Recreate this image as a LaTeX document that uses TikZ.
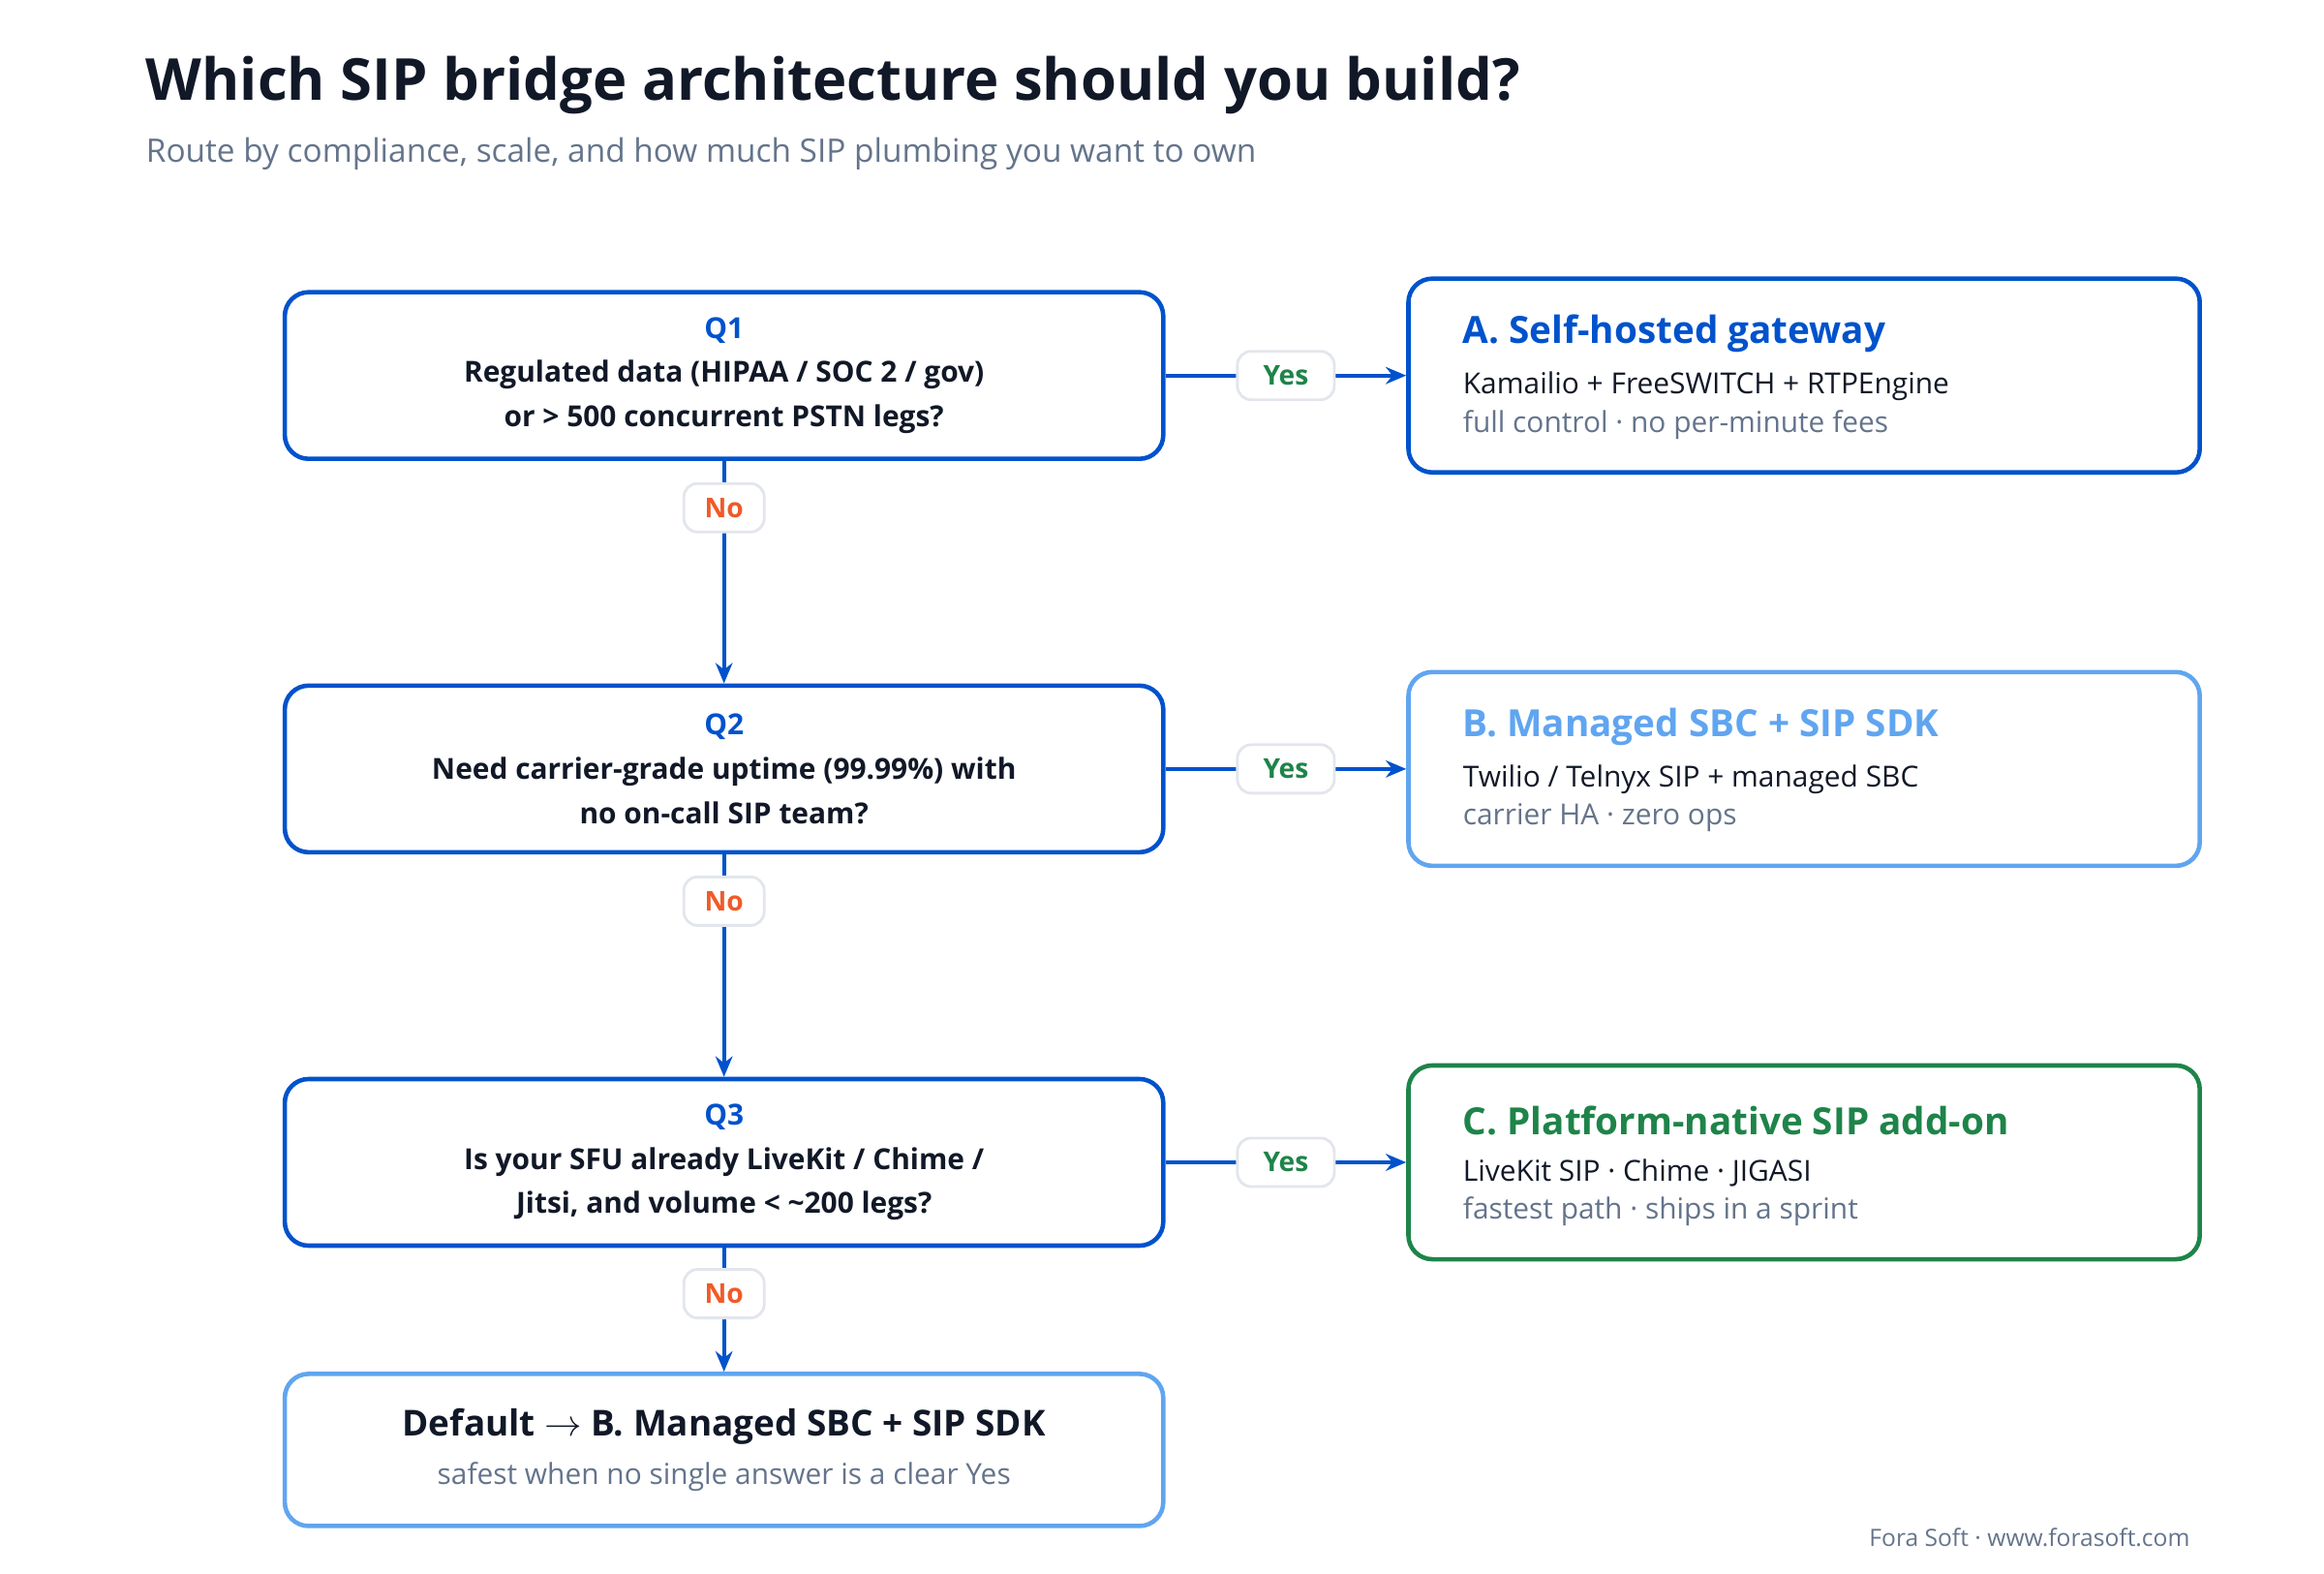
\documentclass[tikz,border=0pt]{standalone}
\usepackage{fontspec}
\setmainfont{Open Sans}
\usetikzlibrary{arrows.meta,positioning}
\definecolor{ink}{RGB}{17,24,39}
\definecolor{slate}{RGB}{100,116,139}
\definecolor{qblue}{RGB}{0,82,204}
\definecolor{lblue}{RGB}{96,165,240}
\definecolor{qgreen}{RGB}{30,132,73}
\definecolor{qorange}{RGB}{240,90,40}
\definecolor{pill}{RGB}{226,230,236}
\tikzset{
  qbox/.style={draw=qblue,line width=1.3pt,rounded corners=7pt,minimum width=9.07cm,minimum height=1.72cm,align=center,text=ink,font=\bfseries\fontsize{8.5}{13}\selectfont},
  abox/.style={draw=#1,line width=1.3pt,rounded corners=7pt,minimum width=8.17cm,minimum height=2cm},
  tag/.style={draw=pill,fill=white,line width=.8pt,rounded corners=4pt,minimum width=#1,minimum height=.5cm,font=\bfseries\fontsize{8}{9}\selectfont},
  flow/.style={draw=qblue,line width=1.1pt,-{Stealth[length=6pt,width=5pt]}},
}
\begin{document}
\begin{tikzpicture}[x=0.01538cm,y=-0.01538cm]
\useasboundingbox (0,0) rectangle (1560,1056);
% heading
\node[anchor=west,text=ink,font=\bfseries\fontsize{17}{20}\selectfont] (title) at (90,57) {Which SIP bridge architecture should you build?};
\node[anchor=west,text=slate,font=\fontsize{9.5}{11}\selectfont] (sub) at (90,103) {Route by compliance, scale, and how much SIP plumbing you want to own};
% questions
\node[qbox] (q1) at (486,252) {\textcolor{qblue}{Q1}\\Regulated data (HIPAA / SOC 2 / gov)\\or > 500 concurrent PSTN legs?};
\node[qbox] (q2) at (486,516) {\textcolor{qblue}{Q2}\\Need carrier-grade uptime (99.99\%) with\\no on-call SIP team?};
\node[qbox] (q3) at (486,780) {\textcolor{qblue}{Q3}\\Is your SFU already LiveKit / Chime /\\Jitsi, and volume < \textasciitilde200 legs?};
\node[draw=lblue,line width=1.3pt,rounded corners=7pt,minimum width=9.07cm,minimum height=1.57cm,align=center] (def) at (486,973)
  {{\bfseries\fontsize{10.5}{13}\selectfont\color{ink}Default $\rightarrow$ B. Managed SBC + SIP SDK}\\[2pt]{\fontsize{8.5}{10}\selectfont\color{slate}safest when no single answer is a clear Yes}};
% answers
\newcommand{\answer}[6]{
  \node[abox=#2] (#1) at (1211,#3) {};
  \node[anchor=west,text=#2,font=\bfseries\fontsize{11}{13}\selectfont] at (974,#3-28) {#4};
  \node[anchor=west,text=ink,font=\fontsize{8.5}{10}\selectfont] at (974,#3+7) {#5};
  \node[anchor=west,text=slate,font=\fontsize{8.5}{10}\selectfont] at (974,#3+33) {#6};
}
\answer{ansA}{qblue}{252}{A. Self-hosted gateway}{Kamailio + FreeSWITCH + RTPEngine}{full control · no per-minute fees}
\answer{ansB}{lblue}{516}{B. Managed SBC + SIP SDK}{Twilio / Telnyx SIP + managed SBC}{carrier HA · zero ops}
\answer{ansC}{qgreen}{780}{C. Platform-native SIP add-on}{LiveKit SIP · Chime · JIGASI}{fastest path · ships in a sprint}
% connectors
\draw[flow] (q1) -- (ansA) node[midway,tag=1cm,text=qgreen] {Yes};
\draw[flow] (q2) -- (ansB) node[midway,tag=1cm,text=qgreen] {Yes};
\draw[flow] (q3) -- (ansC) node[midway,tag=1cm,text=qgreen] {Yes};
\draw[flow] (q1) -- (q2) node[pos=.21,tag=.83cm,text=qorange] {No};
\draw[flow] (q2) -- (q3) node[pos=.21,tag=.83cm,text=qorange] {No};
\draw[flow] (q3) -- (def) node[pos=.37,tag=.83cm,text=qorange] {No};
\node[anchor=east,text=slate,font=\fontsize{7}{8}\selectfont] (foot) at (1478,1032) {Fora Soft · www.forasoft.com};
\end{tikzpicture}
\end{document}
